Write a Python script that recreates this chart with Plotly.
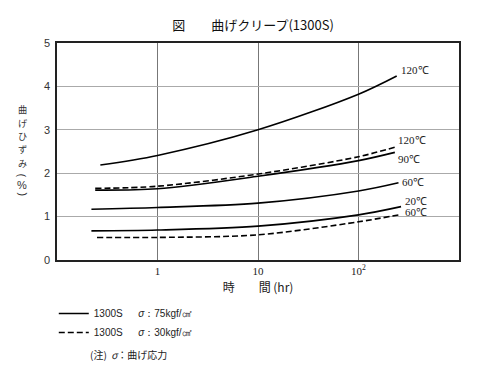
import math
import plotly.graph_objects as go

# ---- data ----
t_120_s = [0.27, 1, 10, 100, 240]
y_120_s = [2.19, 2.41, 3.00, 3.82, 4.24]

t_120_d = [0.24, 1, 10, 100, 230]
y_120_d = [1.65, 1.70, 1.98, 2.38, 2.60]

t_90_s = [0.24, 1, 10, 100, 230]
y_90_s = [1.61, 1.64, 1.93, 2.29, 2.48]

t_60_s = [0.22, 1, 10, 100, 250]
y_60_s = [1.17, 1.21, 1.31, 1.59, 1.78]

t_20_s = [0.22, 1, 10, 100, 265]
y_20_s = [0.67, 0.69, 0.78, 1.04, 1.23]

t_60_d = [0.25, 1, 10, 100, 265]
y_60_d = [0.52, 0.52, 0.58, 0.88, 1.05]

x_tickvals = [1, 10, 100]
x_ticktext = ["1", "10", "10<sup>2</sup>"]
y_tickvals = [0, 1, 2, 3, 4, 5]

labels = ["120℃", "120℃", "90℃", "60℃", "20℃", "60℃"]
label_t = [255, 235, 235, 258, 275, 275]
label_y = [4.38, 2.76, 2.33, 1.80, 1.36, 1.11]

title = "図　　曲げクリープ(1300S)"
legend_names = ["1300S　  <i>σ</i>：75kgf/㎠", "1300S　  <i>σ</i>：30kgf/㎠"]
note = "(注)  <i>σ</i>：曲げ応力"
ylabel_chars = ["曲", "げ", "ひ", "ず", "み"]
ylabel_char_pos = [109.5, 122.8, 136.1, 149.4, 162.7]
ylabel_unit = ["(", "%", ")"]
ylabel_unit_pos = [175.5, 185, 194.5]
ylabel_unit_angle = [90, 0, 90]

series = [
    (t_120_s, y_120_s, "solid"),
    (t_120_d, y_120_d, "dash"),
    (t_90_s, y_90_s, "solid"),
    (t_60_s, y_60_s, "solid"),
    (t_20_s, y_20_s, "solid"),
    (t_60_d, y_60_d, "dash"),
]

W, H = 500, 376
ML, MR, MT, MB = 57, 41, 43, 116

fig = go.Figure()
shown = set()
for t, y, style in series:
    dash = "solid" if style == "solid" else "6px,3px"
    name = legend_names[0] if style == "solid" else legend_names[1]
    fig.add_trace(go.Scatter(
        x=t, y=y, mode="lines",
        line=dict(color="black", width=1.6, dash=dash, shape="spline", smoothing=0.9),
        name=name, legendgroup=style,
        showlegend=style not in shown,
        hoverinfo="skip",
    ))
    shown.add(style)

for txt, lt, ly in zip(labels, label_t, label_y):
    fig.add_annotation(x=math.log10(lt), y=ly, xref="x", yref="y", text=txt, showarrow=False,
                       xanchor="left", yanchor="middle",
                       font=dict(family="Liberation Serif", size=11, color="#222"))

fig.update_layout(
    width=W, height=H,
    margin=dict(l=ML, r=MR, t=MT, b=MB, autoexpand=False),
    paper_bgcolor="white", plot_bgcolor="white",
    title=dict(text=title, x=0.506, xanchor="center", y=1 - 25 / H, yanchor="middle",
               font=dict(family="Noto Sans CJK JP", size=13, color="#111")),
    xaxis=dict(type="log", range=[-1, 3], tickvals=x_tickvals, ticktext=x_ticktext,
               showgrid=True, gridcolor="#777", gridwidth=1,
               showline=True, linecolor="#222", linewidth=1.5, mirror=True,
               ticks="", zeroline=False,
               tickfont=dict(family="Liberation Serif", size=11, color="#222"),
               title=dict(text="時　　間 (hr)", standoff=8,
                          font=dict(family="Noto Sans CJK JP", size=12, color="#222"))),
    yaxis=dict(range=[0, 5], tickvals=y_tickvals, showgrid=True, gridcolor="#aaa",
               gridwidth=1, showline=True, linecolor="#222", linewidth=1.5, mirror=True,
               ticks="", zeroline=False, ticklabelstandoff=3,
               tickfont=dict(family="Liberation Sans", size=11, color="#333")),
    legend=dict(x=-0.008, xanchor="left", y=-0.18, yanchor="top", orientation="v",
                bgcolor="rgba(0,0,0,0)", tracegroupgap=0,
                font=dict(family="Liberation Sans", size=10, color="#222")),
    showlegend=True,
)

ph = H - MT - MB
pw = W - ML - MR
for ch, py in zip(ylabel_chars, ylabel_char_pos):
    fig.add_annotation(xref="paper", yref="paper", x=(22 - ML) / pw, y=(H - MB - py) / ph,
                       xanchor="center", yanchor="middle", showarrow=False, text=ch,
                       font=dict(family="Noto Sans CJK JP", size=9.2, color="#333"))
for ch, py, ang in zip(ylabel_unit, ylabel_unit_pos, ylabel_unit_angle):
    fig.add_annotation(xref="paper", yref="paper", x=(22 - ML) / pw, y=(H - MB - py) / ph,
                       xanchor="center", yanchor="middle", showarrow=False, text=ch,
                       textangle=ang,
                       font=dict(family="Liberation Sans", size=11, color="#333"))
fig.add_annotation(xref="paper", yref="paper", x=(88 - ML) / pw, y=(H - MB - 354) / ph,
                   xanchor="left", yanchor="middle", showarrow=False, text=note,
                   font=dict(family="Noto Sans CJK JP", size=10, color="#222"))

fig.write_html("out.html", config={"displayModeBar": False},
               post_script="document.body.style.margin='0';")
